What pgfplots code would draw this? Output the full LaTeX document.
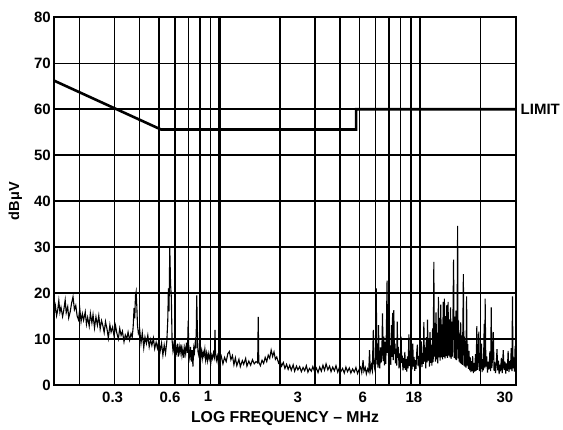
\documentclass[border=0pt]{standalone}
\usepackage{fontspec}
\setmainfont{Liberation Sans}
\usepackage{pgfplots}
\pgfplotsset{compat=1.18}

\begin{document}
\begin{tikzpicture}
\useasboundingbox (-54.3pt,-44pt) rectangle (508.7pt,385pt);
\begin{semilogxaxis}[
    scale only axis,
    width=461.4pt, height=367.7pt,
    xmin=0.15, xmax=30,
    ymin=0, ymax=80,
    clip=false,
    axis line style={line width=1.8pt},
    tick style={draw=none},
    % labels sit where the original prints them
    xtick={0.293,0.566,0.876,2.46,5.18,9.33,26.5},
    xticklabels={0.3,0.6,1,3,6,18,30},
    minor xtick={0.2,0.3,0.4,0.5,0.6,0.7,0.8,0.9,2,3,4,5,6,7,8,9,20},
    xminorgrids,
    minor grid style={line width=1.5pt, black},
    extra x ticks={1,10},
    extra x tick labels={},
    extra x tick style={grid=major, major grid style={line width=2.2pt, black}},
    ytick={0,10,...,80},
    ymajorgrids,
    major grid style={line width=1.5pt, black},
    /pgf/number format/assume math mode=true,
    tick label style={font=\fontsize{15}{17}\selectfont\bfseries},
    x tick label style={yshift=-3pt},
    label style={font=\fontsize{15.8}{17}\selectfont\bfseries},
    xlabel={LOG FREQUENCY \textendash\ MHz},
    xlabel style={at={(axis description cs:0.5,-0.0925)}, anchor=center},
    ylabel={dBμV},
    ylabel style={at={(axis description cs:-0.0845,0.5)}, anchor=center,
        font=\fontsize{14.5}{16}\selectfont\bfseries},
]

% measured spectrum
\addplot[black, line width=1.1pt] table {
f dB
0.150 15.5
0.152 17.2
0.154 15.1
0.156 16.3
0.158 18.4
0.160 15.8
0.162 16.9
0.165 14.9
0.167 16.1
0.170 18.5
0.172 15.7
0.175 17.0
0.177 14.6
0.180 15.9
0.183 17.8
0.186 19.2
0.189 16.4
0.192 17.3
0.195 15.0
0.198 14.2
0.201 16.6
0.204 13.8
0.207 15.5
0.210 14.1
0.214 15.9
0.217 13.2
0.220 14.7
0.224 12.8
0.227 15.6
0.231 13.5
0.234 15.3
0.238 12.4
0.242 14.8
0.246 13.0
0.250 15.1
0.254 12.2
0.258 14.0
0.262 12.9
0.266 11.4
0.270 13.8
0.275 12.1
0.279 10.2
0.284 13.1
0.288 11.5
0.293 12.6
0.298 10.6
0.303 12.9
0.308 11.2
0.313 10.0
0.318 12.3
0.323 10.8
0.328 11.7
0.334 9.4
0.339 10.9
0.345 10.1
0.350 11.5
0.356 9.8
0.362 11.2
0.367 10.4
0.371 12.6
0.375 16.8
0.378 14.5
0.381 19.5
0.384 20.3
0.387 17.1
0.390 13.0
0.394 11.2
0.400 12.0
0.406 9.1
0.412 11.3
0.419 8.1
0.425 10.4
0.432 9.0
0.439 10.8
0.446 8.3
0.453 9.9
0.460 8.6
0.468 10.2
0.475 7.9
0.483 9.3
0.490 8.0
0.498 9.6
0.506 7.4
0.514 9.1
0.522 6.5
0.530 8.7
0.538 6.9
0.546 9.5
0.552 14.0
0.556 21.0
0.560 16.0
0.565 29.8
0.570 22.0
0.575 19.2
0.580 9.8
0.586 7.5
0.592 8.9
0.598 6.6
0.604 8.4
0.610 7.1
0.617 9.0
0.623 6.2
0.630 8.3
0.636 7.0
0.643 8.8
0.650 6.4
0.657 7.9
0.664 5.9
0.671 8.1
0.678 6.8
0.685 9.2
0.692 7.0
0.698 14.0
0.703 7.5
0.710 6.0
0.717 8.3
0.724 5.1
0.731 7.6
0.737 4.0
0.744 8.0
0.750 7.1
0.757 9.3
0.764 8.0
0.770 19.5
0.775 13.0
0.780 7.4
0.788 6.5
0.796 8.1
0.804 6.0
0.812 7.4
0.820 5.7
0.828 7.2
0.836 6.3
0.845 7.8
0.853 5.5
0.862 6.9
0.870 5.3
0.879 6.8
0.888 5.6
0.897 6.7
0.906 5.0
0.915 6.5
0.924 5.8
0.933 7.0
0.943 6.1
0.950 12.0
0.955 7.0
0.965 5.4
0.975 6.3
0.985 4.9
0.995 6.0
1.00 5.2
1.02 6.3
1.04 4.6
1.06 6.0
1.08 5.1
1.10 6.8
1.12 7.3
1.14 5.5
1.16 6.4
1.18 4.4
1.20 5.9
1.22 4.2
1.25 5.6
1.27 4.0
1.30 5.3
1.32 4.5
1.35 5.8
1.37 4.1
1.40 5.2
1.43 4.3
1.46 5.5
1.49 4.6
1.52 5.1
1.55 4.8
1.56 14.8
1.57 5.0
1.60 4.2
1.63 5.4
1.66 4.7
1.69 6.0
1.72 5.1
1.75 6.5
1.78 5.8
1.81 7.6
1.84 6.2
1.87 7.2
1.90 5.6
1.93 6.1
1.97 4.8
2.00 5.4
2.04 4.1
2.08 4.9
2.12 3.6
2.16 4.5
2.20 3.4
2.24 4.3
2.28 3.2
2.33 4.4
2.37 3.0
2.42 4.1
2.46 3.3
2.51 4.0
2.56 2.9
2.61 3.8
2.66 3.1
2.71 4.2
2.76 2.8
2.81 3.6
2.87 3.0
2.92 4.0
2.98 2.9
3.04 3.7
3.10 2.7
3.16 3.9
3.22 3.0
3.28 4.3
3.34 3.2
3.40 4.6
3.47 3.3
3.54 4.1
3.60 2.9
3.67 3.9
3.74 3.1
3.81 4.2
3.89 2.8
3.96 3.8
4.04 3.0
4.11 3.6
4.19 2.6
4.27 3.9
4.35 2.9
4.44 3.7
4.52 2.6
4.61 3.5
4.70 2.8
4.79 3.8
4.88 2.5
4.97 3.4
5.05 3.9
5.12 2.7
5.20 5.4
5.25 3.0
5.33 3.8
5.40 2.4
5.48 3.5
5.55 2.9
5.60 7.6
5.65 3.1
5.72 4.3
5.78 3.2
5.85 12.0
5.90 4.1
5.95 3.4
6.00 5.8
6.05 21.0
6.09 4.5
6.13 9.0
6.17 3.8
6.21 13.0
6.25 5.5
6.30 3.6
6.35 8.2
6.40 4.9
6.45 6.8
6.50 15.6
6.55 5.2
6.60 10.5
6.65 4.3
6.70 9.4
6.75 4.6
6.80 12.5
6.85 22.7
6.88 7.0
6.92 15.0
6.96 6.3
7.00 10.2
7.05 5.0
7.10 8.6
7.15 4.4
7.20 13.0
7.25 6.1
7.30 15.7
7.35 5.4
7.40 16.3
7.45 6.8
7.50 9.0
7.55 4.7
7.60 7.9
7.65 4.2
7.70 13.8
7.75 5.9
7.80 8.3
7.86 3.6
7.92 6.9
7.98 3.9
8.05 10.5
8.10 4.8
8.16 6.4
8.22 3.2
8.28 5.9
8.34 3.7
8.40 7.2
8.46 3.3
8.52 5.6
8.58 2.9
8.65 6.2
8.72 3.6
8.80 11.0
8.86 4.1
8.93 5.8
9.00 3.0
9.06 6.6
9.13 3.4
9.20 9.0
9.27 4.0
9.34 6.1
9.41 3.1
9.48 5.4
9.55 3.5
9.62 6.8
9.70 8.8
9.77 4.2
9.84 6.3
9.92 3.8
10.00 7.8
10.07 4.5
10.15 9.5
10.22 3.9
10.30 7.0
10.38 4.6
10.45 13.7
10.52 5.1
10.60 8.2
10.68 3.6
10.76 10.4
10.84 4.9
10.90 14.2
10.98 5.3
11.06 9.8
11.14 4.0
11.22 11.5
11.30 4.8
11.38 8.7
11.46 4.2
11.55 12.3
11.63 5.0
11.72 26.8
11.78 6.2
11.86 13.5
11.94 5.1
12.02 15.8
12.10 5.6
12.18 11.4
12.26 4.7
12.35 19.2
12.43 6.0
12.52 14.6
12.60 5.3
12.69 17.5
12.78 6.0
12.87 13.2
12.96 5.6
13.05 18.1
13.14 6.1
13.23 18.8
13.32 5.8
13.41 15.0
13.50 6.3
13.60 17.4
13.70 5.9
13.80 18.1
13.90 6.4
14.00 14.3
14.10 6.0
14.20 16.9
14.30 5.7
14.40 13.8
14.50 6.2
14.60 15.2
14.70 27.3
14.80 5.9
14.90 14.9
15.00 5.6
15.10 16.2
15.20 5.4
15.30 12.8
15.40 34.6
15.48 5.8
15.57 14.0
15.66 5.1
15.75 11.2
15.85 4.8
15.95 13.6
16.05 4.6
16.15 10.8
16.25 4.4
16.35 12.1
16.45 24.1
16.55 4.2
16.65 10.5
16.75 4.0
16.85 9.6
16.95 3.8
17.07 19.3
17.18 4.2
17.30 8.9
17.42 3.5
17.55 7.4
17.68 3.2
17.80 6.0
17.93 2.8
18.05 5.2
18.18 3.0
18.30 6.3
18.45 2.6
18.60 4.8
18.75 2.9
18.90 6.7
19.05 3.1
19.20 12.8
19.35 3.3
19.50 5.5
19.65 11.6
19.80 3.0
19.95 6.9
20.10 3.5
20.25 9.0
20.40 2.8
20.55 5.6
20.70 3.2
20.90 13.3
21.05 3.6
21.12 18.8
21.30 4.0
21.50 6.2
21.70 2.7
21.90 5.1
22.10 3.4
22.30 7.3
22.50 3.0
22.65 16.9
22.80 3.7
23.00 5.8
23.20 11.5
23.40 3.1
23.60 5.0
23.80 2.6
24.00 4.6
24.20 7.8
24.40 3.2
24.60 5.3
24.80 2.4
25.00 4.4
25.20 3.0
25.45 5.9
25.70 2.6
26.00 7.6
26.25 3.3
26.50 5.1
26.75 2.5
27.00 4.7
27.25 3.1
27.50 7.4
27.75 2.8
28.00 5.2
28.25 3.4
28.50 8.0
28.75 3.0
28.90 19.3
29.10 3.6
29.40 6.0
29.60 2.9
29.80 8.5
30.00 3.2
};

% conducted emission limit
\addplot[black, line width=2.6pt] coordinates {
    (0.15,66.2) (0.51,55.6) (4.8,55.6) (4.8,60) (30,60)
};

\node[anchor=west, xshift=1.5pt, font=\fontsize{15}{16}\selectfont\bfseries]
    at (axis cs:30,60) {LIMIT};

\end{semilogxaxis}
\end{tikzpicture}
\end{document}
